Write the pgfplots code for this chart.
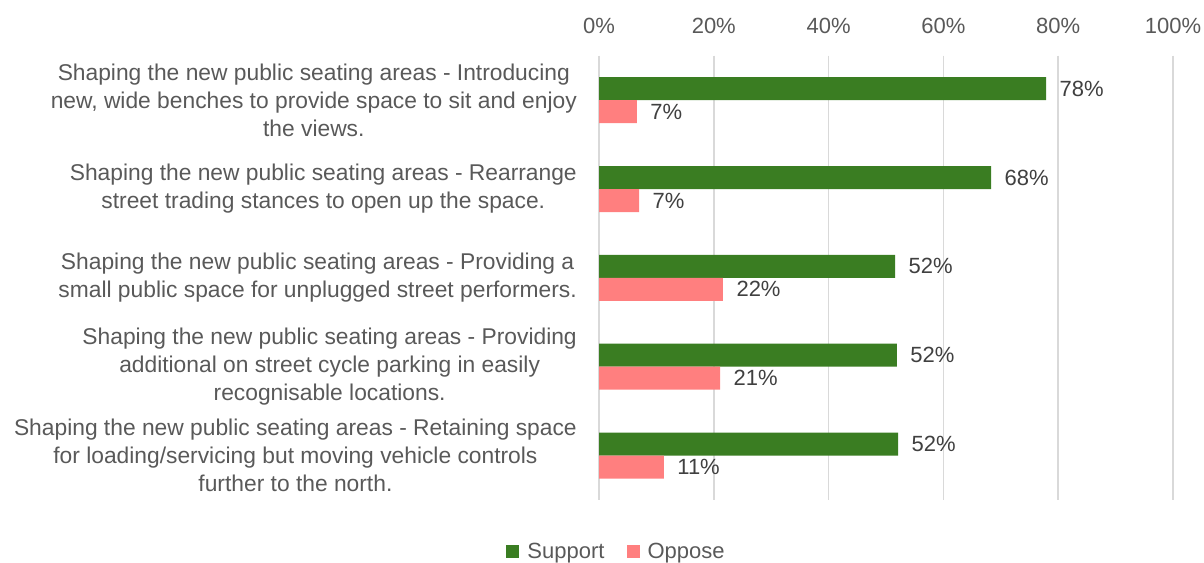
\documentclass[border=0pt]{standalone}
\usepackage{pgfplots}
\pgfplotsset{compat=1.18}
\usepackage{fontspec}
\setmainfont{Liberation Sans}
\definecolor{sup}{HTML}{3A7D22}
\definecolor{opp}{HTML}{FF7F7F}
\definecolor{txt}{HTML}{595959}
\definecolor{dlab}{HTML}{404040}
\definecolor{grd}{HTML}{D9D9D9}
\newcommand{\lf}{\fontsize{22}{28}\selectfont}
\newcommand{\cf}{\fontsize{22.8}{28}\selectfont}
\begin{document}
\begin{tikzpicture}[x=1pt,y=1pt]
\useasboundingbox (0,0) rectangle (1204,-562);
\begin{axis}[
  at={(599pt,-500pt)}, anchor=south west,
  scale only axis, width=574pt, height=444.3pt,
  xbar, xmin=0, xmax=100, ymin=-0.5, ymax=4.5, y dir=reverse,
  axis line style={draw=none}, major tick length=0pt,
  /pgf/number format/assume math mode=true,
  xtick={0,20,...,100}, xticklabel pos=upper,
  xticklabel={\pgfmathprintnumber{\tick}\%},
  xticklabel style={font=\lf, text=txt, anchor=center, yshift=30pt},
  xmajorgrids, grid style={grd, line width=1.5pt},
  ytick={0,...,4},
  yticklabels={
    {Shaping the new public seating areas - Introducing\\new, wide benches to provide space to sit and enjoy\\the views.},
    {Shaping the new public seating areas - Rearrange\\street trading stances to open up the space.},
    {Shaping the new public seating areas - Providing a\\small public space for unplugged street performers.},
    {Shaping the new public seating areas - Providing\\additional on street cycle parking in easily\\recognisable locations.},
    {Shaping the new public seating areas - Retaining space\\for loading/servicing but moving vehicle controls\\further to the north.}},
  yticklabel style={align=center, font=\cf, text=txt, inner sep=0pt, anchor=east, xshift=-22pt},
  bar width=23pt,
  point meta=explicit symbolic,
  nodes near coords={\pgfplotspointmeta\%},
  nodes near coords style={font=\lf, text=dlab, anchor=west, xshift=10pt},
  legend style={at={(0.0305,-0.117)}, anchor=center, draw=none, fill=none,
    legend columns=-1, font=\lf, text=txt, inner sep=0pt,
    /tikz/every odd column/.append style={column sep=6pt},
    /tikz/every even column/.append style={column sep=20pt}},
  legend image code/.code={\fill[#1,draw=none] (0pt,-6.5pt) rectangle (13pt,6.5pt);},
]
\addplot[fill=sup, draw=none, bar shift=11.5pt] table[x=x, y=y, meta=l] {
x y l
77.9 0 78
68.3 1 68
51.6 2 52
51.9 3 52
52.1 4 52
};
\addlegendentry{Support}
\addplot[fill=opp, draw=none, bar shift=-11.5pt] table[x=x, y=y, meta=l] {
x y l
6.6 0 7
7.0 1 7
21.6 2 22
21.1 3 21
11.3 4 11
};
\addlegendentry{Oppose}
\end{axis}
\end{tikzpicture}
\end{document}
